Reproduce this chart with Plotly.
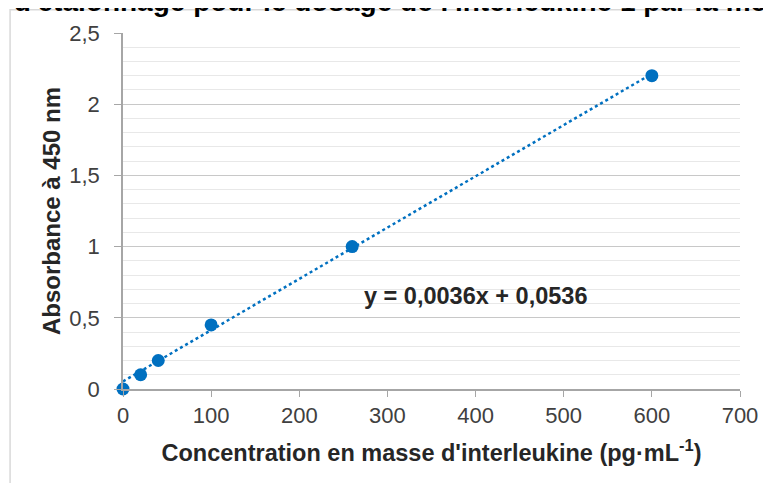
import plotly.graph_objects as go

BLUE = "#0070c0"

concentration = [0, 20, 40, 100, 260, 600]
absorbance = [0, 0.1, 0.2, 0.45, 1.0, 2.2]

slope = 0.0036
intercept = 0.0536
fit_x = [0, 600]
fit_y = [slope * x + intercept for x in fit_x]

fig = go.Figure()
fig.add_trace(go.Scatter(
    x=fit_x, y=fit_y, mode="lines",
    line=dict(color=BLUE, width=2.5, dash="dot"),
    hoverinfo="skip",
))
fig.add_trace(go.Scatter(
    x=concentration, y=absorbance, mode="markers",
    marker=dict(color=BLUE, size=13),
    cliponaxis=False,
))

# la page a une marge de 8 px : on décale les marges en conséquence
fig.update_layout(
    width=771, height=483,
    margin=dict(l=115, r=39, t=25, b=102),
    paper_bgcolor="white", plot_bgcolor="white",
    showlegend=False,
    separators=", ",
    font=dict(family="Arial, Liberation Sans, sans-serif", color="#404040", size=22),
)
fig.update_xaxes(
    range=[0, 700], dtick=100, showgrid=False, zeroline=False,
    showline=True, linecolor="#a6a6a6", linewidth=1.5,
    ticks="outside", ticklen=6, tickcolor="#a6a6a6",
    title=dict(text="<b>Concentration en masse d'interleukine (pg·mL<sup>-1</sup>)</b>",
               font=dict(size=23.5, color="#262626"), standoff=17),
)
fig.update_yaxes(
    range=[0, 2.5], dtick=0.5, zeroline=False,
    showgrid=True, gridcolor="#c8c8c8", gridwidth=1.2,
    minor=dict(dtick=0.1, showgrid=True, gridcolor="#e8e8e8", gridwidth=1),
    showline=True, linecolor="#a6a6a6", linewidth=1.5,
    ticks="outside", ticklen=7, tickcolor="#a6a6a6",
    ticklabelstandoff=10,
    title=dict(text="<b>Absorbance à 450 nm</b>",
               font=dict(size=24, color="#262626"), standoff=2),
)

fig.add_annotation(
    x=400, y=0.65, xref="x", yref="y",
    text="<b>y = 0,0036x + 0,0536</b>", showarrow=False,
    font=dict(size=23.5, color="#262626"),
)

# bordure du cadre (coupée à droite et en bas)
fig.add_shape(
    type="rect", xref="paper", yref="paper",
    x0=-0.183, x1=1.1, y0=-0.35, y1=1.065,
    line=dict(color="#d9d9d9", width=1.5), layer="below",
)

# titre coupé en haut de l'image
fig.add_annotation(
    x=-0.351, y=1.04, xref="paper", yref="paper",
    xanchor="left", yanchor="bottom",
    text="<b>Courbe d'étalonnage pour le dosage de l'interleukine 1 par la méthode ELISA</b>",
    showarrow=False, font=dict(size=28, color="#000000"),
)

fig.write_html("out.html")
